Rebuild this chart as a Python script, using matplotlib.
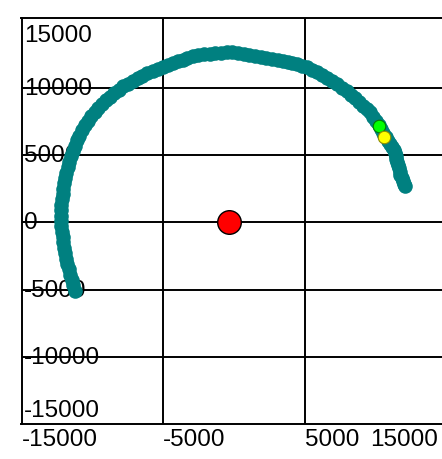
import matplotlib.pyplot as plt

# orbit positions
orbit_x = [-11200, -11330, -11450, -11550, -11650, -11750, -11850, -11930, -12000, -12050,
           -12100, -12140, -12180, -12200, -12200, -12200, -12180, -12150, -12100, -12040,
           -11980, -11900, -11820, -11720, -11620, -11500, -11380, -11240, -11080, -10910,
           -10720, -10520, -10300, -10070, -9830, -9570, -9300, -9020, -8730, -8430,
           -8120, -7800, -7480, -7140, -6800, -6450, -6100, -5740, -5380, -5020,
           -4650, -4300, -3950, -3600, -3300, -2900, -2500, -2100, -1700, -1300,
           -900, -500, -100, 300, 700, 1100, 1500, 1900, 2300, 2700,
           3100, 3450, 3800, 4150, 4500, 4850, 5200, 5550, 5900, 6250,
           6600, 6950, 7300, 7650, 8000, 8300, 8600, 8880, 9150, 9400,
           9650, 9850, 10050, 10230, 10400, 10580, 10750, 10900, 11050, 11180,
           11300, 11380, 11450, 11500, 11550, 11600, 11650, 11720, 11780, 11860,
           11950, 12030, 12100]
orbit_y = [-5100, -4700, -4300, -3900, -3500, -3100, -2700, -2300, -1900, -1500,
           -1100, -700, -300, 100, 500, 900, 1300, 1700, 2100, 2500,
           2900, 3300, 3700, 4100, 4500, 4900, 5300, 5700, 6100, 6450,
           6850, 7200, 7550, 7900, 8200, 8500, 8800, 9100, 9350, 9600,
           9850, 10100, 10300, 10520, 10720, 10900, 11080, 11250, 11420, 11570,
           11720, 11850, 11980, 12100, 12230, 12330, 12420, 12490, 12550, 12590,
           12620, 12640, 12650, 12600, 12550, 12460, 12380, 12300, 12220, 12150,
           12090, 12020, 11950, 11850, 11750, 11640, 11520, 11340, 11150, 10960,
           10760, 10520, 10270, 10000, 9730, 9500, 9260, 8970, 8680, 8430,
           8180, 7850, 7500, 7200, 6910, 6620, 6320, 6060, 5800, 5600,
           5400, 5170, 4950, 4720, 4500, 4250, 4000, 3750, 3500, 3270,
           3050, 2870, 2700]

green_pt = (10272, 7147)
yellow_pt = (10625, 6330)
sun = (-340, 0)

x_labels = [-15000, -5000, 5000, 15000]
y_labels = [15000, 10000, 5000, 0, -5000, -10000, -15000]
x_grid = [-5000, 5000]
y_grid = [-10000, -5000, 0, 5000, 10000]

fig = plt.figure(figsize=(4.42, 4.6), dpi=100)
ax = fig.add_axes([21.5 / 442, 35 / 460, 424.5 / 442, 406 / 460])
ax.set_xlim(-15000, 15000)
ax.set_ylim(-15000, 15190)

ax.set_xticks(x_grid)
ax.set_yticks(y_grid)
ax.tick_params(length=0, labelbottom=False, labelleft=False)
ax.grid(color="black", lw=1.4)
ax.set_axisbelow(True)
for s in ax.spines.values():
    s.set_linewidth(1.4)
    s.set_color("black")

font = dict(family="Liberation Sans", fontsize=17.5, color="black")

# y labels inside the plot, left aligned
for v in y_labels:
    if v == max(y_labels):
        ax.annotate(str(v), xy=(0.006, 1.0), xycoords="axes fraction", xytext=(0, -6),
                    textcoords="offset pixels", ha="left", va="top", zorder=1, **font)
    elif v == min(y_labels):
        ax.annotate(str(v), xy=(0.006, 0.0), xycoords="axes fraction", xytext=(0, 3),
                    textcoords="offset pixels", ha="left", va="bottom", zorder=1, **font)
    else:
        ax.annotate(str(v), xy=(0.006, v), xycoords=ax.get_yaxis_transform(), xytext=(0, 0),
                    textcoords="offset pixels", ha="left", va="center", zorder=1, **font)

# x labels under the plot
for v in x_labels:
    if v == max(x_labels):
        ax.annotate(str(v), xy=(0.99, 0.0), xycoords=("figure fraction", "axes fraction"),
                    xytext=(0, -4), textcoords="offset pixels", ha="right", va="top",
                    annotation_clip=False, **font)
    else:
        ax.annotate(str(v), xy=(v, 0.0), xycoords=ax.get_xaxis_transform(),
                    xytext=(0, -4), textcoords="offset pixels", ha="left", va="top",
                    annotation_clip=False, **font)

ax.plot(orbit_x, orbit_y, "o", color="#008080", markersize=10.5, markeredgewidth=0, zorder=3)
ax.plot(green_pt[0], green_pt[1], "o", color="#00ff00", markersize=9,
        markeredgecolor="#007a00", markeredgewidth=0.8, zorder=4)
ax.plot(yellow_pt[0], yellow_pt[1], "o", color="#ffff00", markersize=9,
        markeredgecolor="#8a8a00", markeredgewidth=0.8, zorder=4)
ax.plot(sun[0], sun[1], "o", color="red", markersize=17, markeredgecolor="black",
        markeredgewidth=1, zorder=4)

fig.savefig("out.png", dpi=100)
